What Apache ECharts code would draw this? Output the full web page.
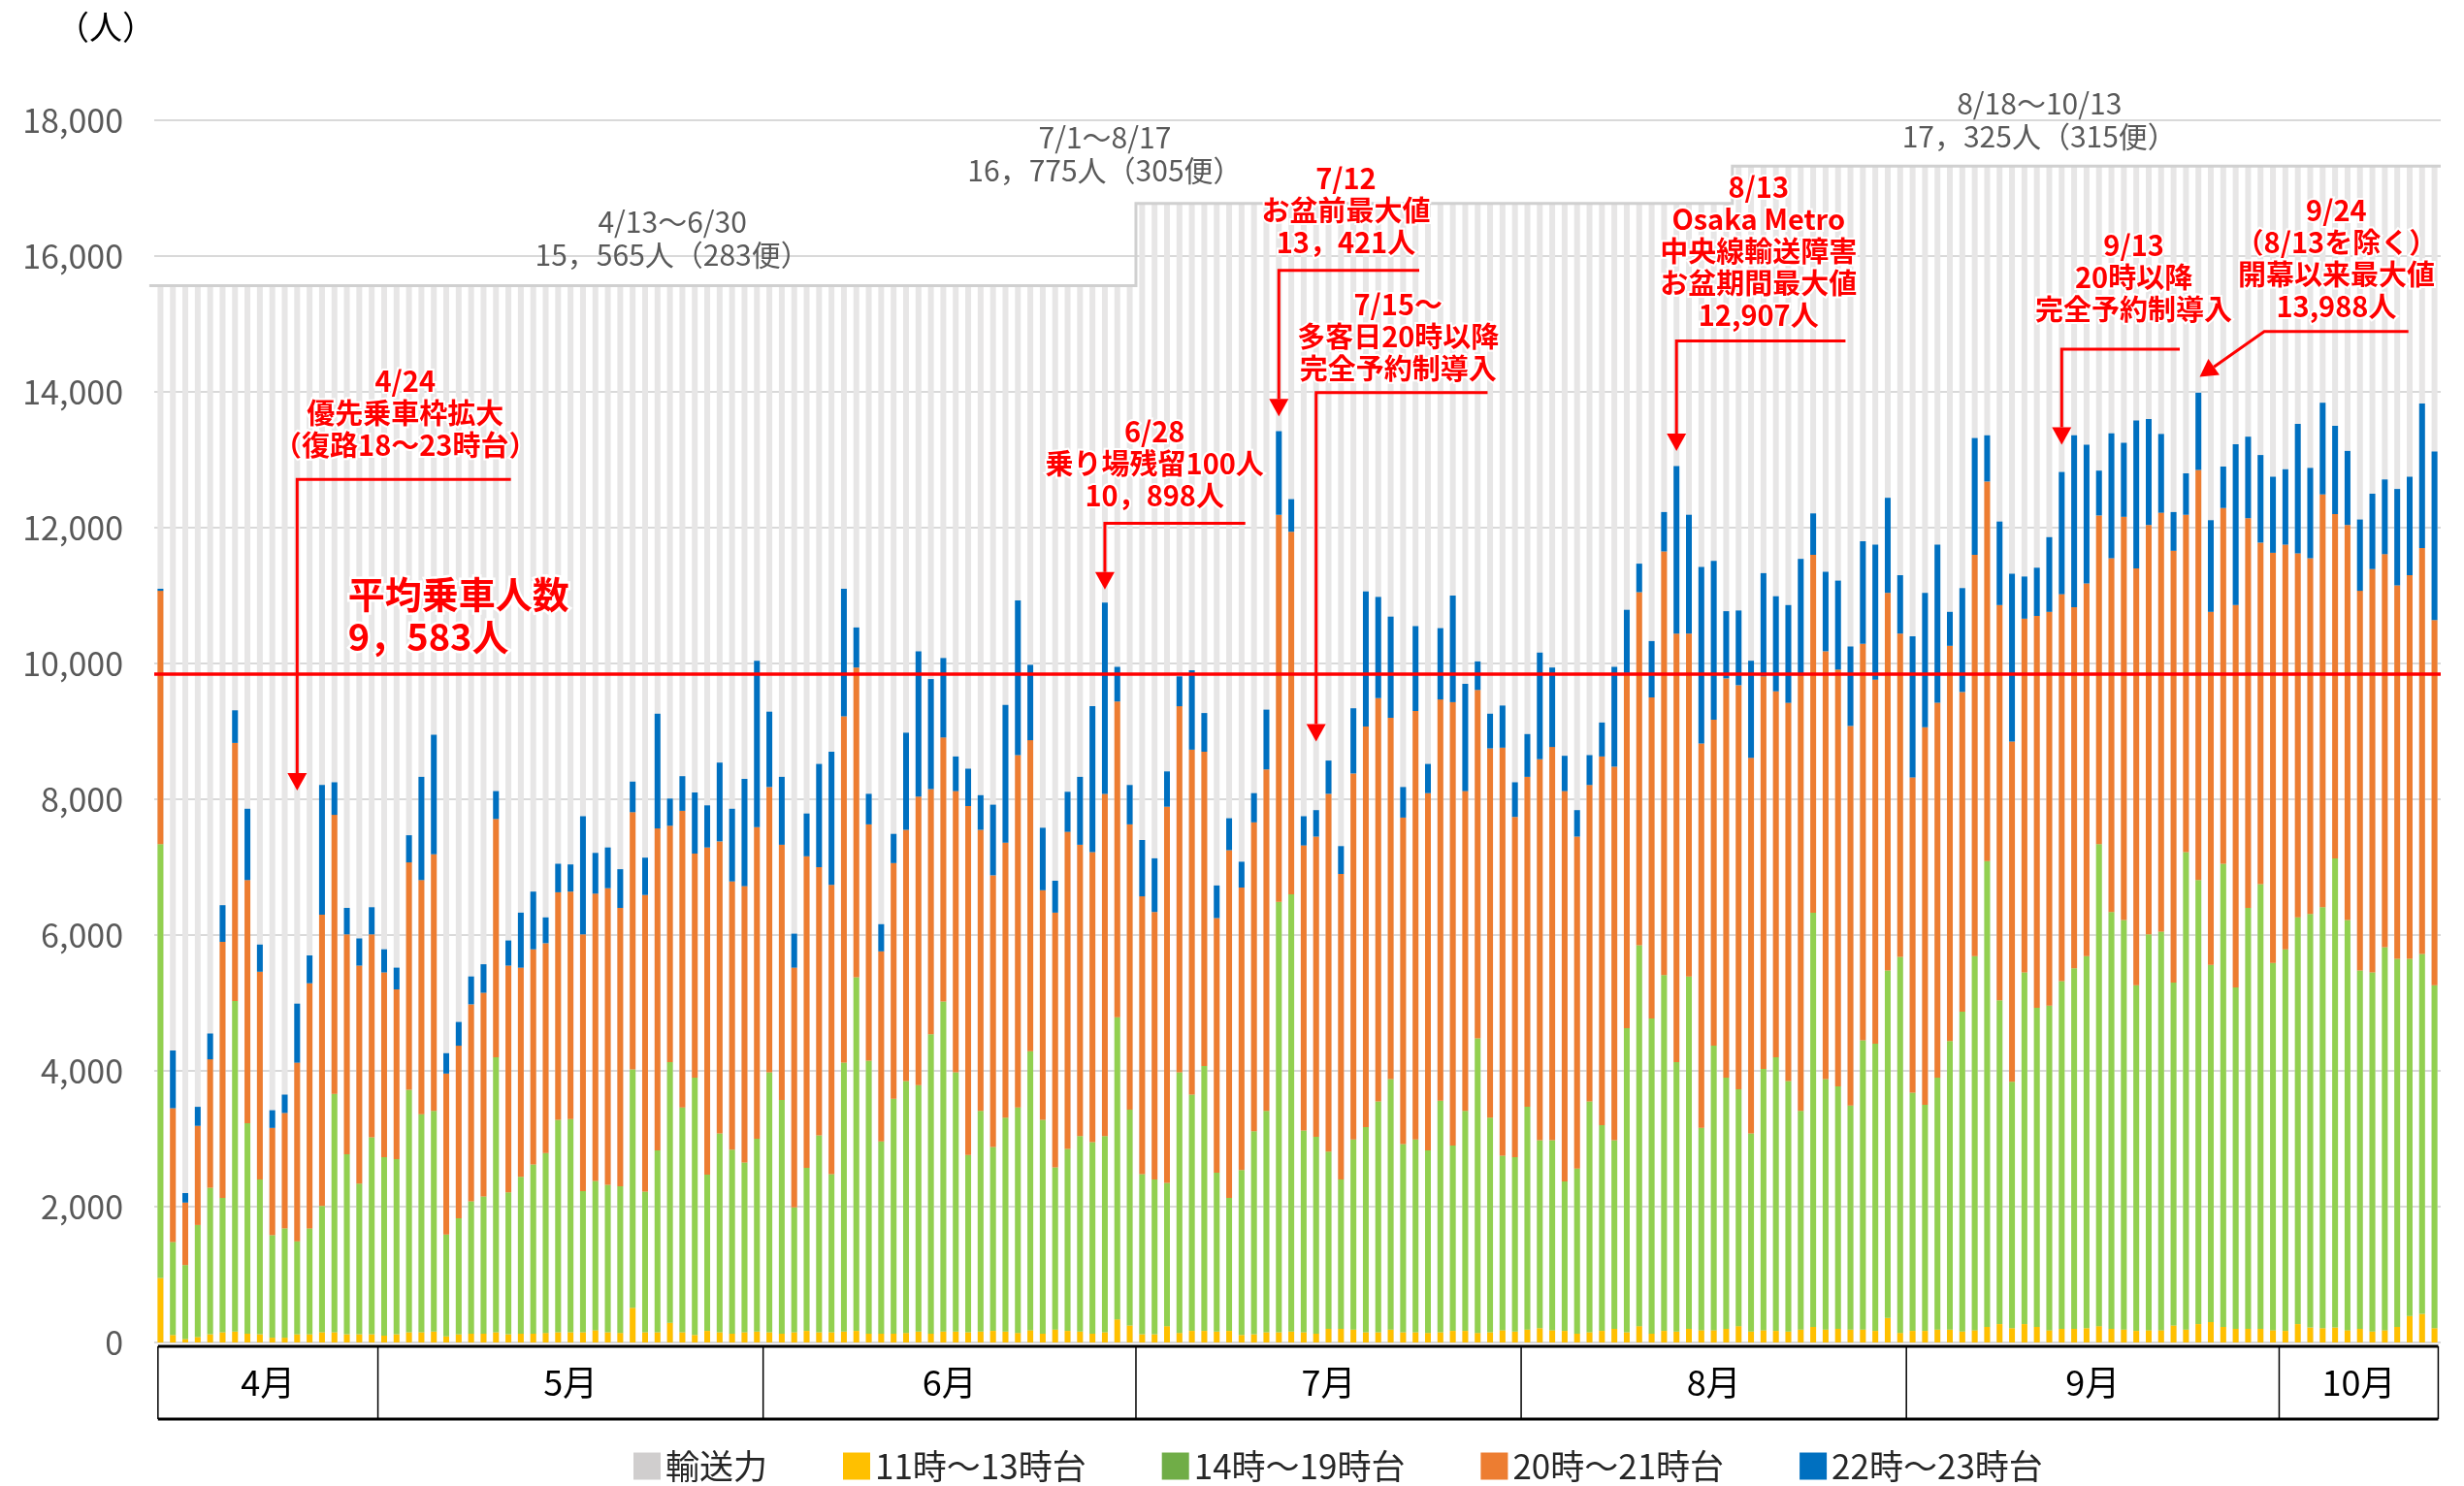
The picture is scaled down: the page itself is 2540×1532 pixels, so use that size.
<!DOCTYPE html>
<html lang="ja">
<head>
<meta charset="utf-8">
<title>日別乗車人数</title>
<script src="https://cdn.jsdelivr.net/npm/echarts@6.0.0/dist/echarts.min.js"></script>
<style>
  html, body { margin: 0; padding: 0; background: #fff; }
  #chart { width: 2540px; height: 1532px; }
</style>
</head>
<body>
<div id="chart"></div>
<script>
const FONT = '"Noto Sans CJK JP", "Noto Sans", sans-serif'

// 期間 4/13〜10/13
const monthNames = ['4月', '5月', '6月', '7月', '8月', '9月', '10月']
const monthNums = [4, 5, 6, 7, 8, 9, 10]
const monthFirstDay = [13, 1, 1, 1, 1, 1, 1]
const monthLastDay = [30, 31, 30, 31, 31, 30, 13]

const days = []
monthNums.forEach((m, k) => {
  for (let d = monthFirstDay[k]; d <= monthLastDay[k]; d++) days.push(m + '/' + d)
})

// 輸送力（期間ごと）
const capacityFrom = ['4/13', '7/1', '8/18']
const capacityValue = [15565, 16775, 17325]
const capacityText = ['4/13～6/30\n15，565人（283便）', '7/1～8/17\n16，775人（305便）', '8/18～10/13\n17，325人（315便）']

// 11時～13時台
const band11to13 = [
  950, 110, 50, 80, 120, 150, 160, 130, 120, 70, 70, 120, 120, 150, 150, 120, 120, 120,
  100, 120, 150, 150, 160, 90, 120, 130, 130, 150, 120, 130, 130, 140, 150, 150, 150, 180, 150, 140, 510, 150, 150, 290, 150, 110, 170, 150, 130, 150, 160,
  150, 130, 150, 170, 150, 150, 160, 170, 130, 130, 130, 140, 160, 130, 160, 160, 150, 160, 170, 160, 140, 180, 130, 190, 170, 160, 130, 150, 340, 250,
  120, 120, 240, 140, 170, 170, 160, 170, 110, 120, 150, 150, 160, 150, 130, 200, 200, 190, 150, 150, 190, 150, 150, 140, 150, 170, 170, 140, 150, 180, 160,
  190, 210, 180, 170, 130, 150, 170, 200, 150, 240, 130, 170, 160, 200, 180, 180, 200, 240, 160, 180, 170, 160, 190, 230, 190, 200, 190, 190, 170, 360, 140,
  170, 170, 190, 190, 160, 180, 230, 270, 210, 270, 230, 180, 200, 200, 210, 240, 200, 190, 170, 180, 180, 250, 190, 270, 300, 230, 200, 200, 200, 180,
  170, 270, 220, 210, 220, 180, 200, 160, 180, 230, 390, 420, 210
]

// 14時～19時台
const band14to19 = [
  6390, 1370, 1090, 1650, 2160, 1980, 4870, 3100, 2280, 1510, 1610, 1370, 1560, 1860, 3510, 2650, 2220, 2900,
  2630, 2580, 3570, 3210, 3250, 1500, 1710, 1950, 2020, 4050, 2090, 2310, 2490, 2650, 3130, 3140, 2080, 2200, 2170, 2160, 3510, 2070, 2680, 3840, 3310, 3790, 2300, 2930, 2710, 2500, 2840,
  3830, 3440, 1840, 2400, 2900, 2330, 3960, 5210, 4020, 2830, 3460, 3710, 3630, 4410, 4860, 3820, 2610, 3250, 2710, 3150, 3320, 4110, 3150, 2390, 2680, 2880, 2820, 2890, 4450, 3180,
  2360, 2280, 2110, 3840, 3480, 3900, 2340, 1960, 2430, 2990, 3260, 6340, 6440, 2970, 2900, 2610, 2200, 2800, 3020, 3400, 3690, 2770, 2840, 2690, 3410, 2730, 3240, 4340, 3160, 2570, 2570,
  3280, 2770, 2800, 2200, 2430, 3400, 3030, 2780, 4480, 5610, 4640, 5240, 3970, 5190, 2980, 4190, 3700, 3490, 2920, 3850, 4030, 3690, 3220, 6100, 3690, 3570, 3300, 4260, 4230, 5120, 5540,
  3510, 3330, 3710, 4250, 4710, 5510, 6860, 4770, 3630, 5180, 4700, 4780, 5120, 5310, 5480, 7100, 6140, 6030, 5090, 5830, 5870, 5050, 7030, 6540, 5260, 6820, 5030, 6200, 6550, 5410,
  5620, 5990, 6090, 6200, 6910, 6040, 5280, 5290, 5640, 5420, 5260, 5300, 5050
]

// 20時～21時台
const band20to21 = [
  3730, 1970, 920, 1460, 1890, 3770, 3800, 3580, 3060, 1580, 1700, 2630, 3610, 4290, 4110, 3240, 3210, 2990,
  2720, 2500, 3350, 3450, 3780, 2370, 2540, 2900, 3000, 3510, 3340, 3080, 3170, 3090, 3350, 3350, 3780, 4230, 4370, 4100, 3790, 4370, 4740, 3480, 4370, 3300, 4820, 4300, 3950, 4070, 4590,
  4200, 3760, 3530, 4590, 3950, 4260, 5100, 4560, 3480, 2800, 3470, 3700, 4250, 3610, 3890, 4140, 5140, 4140, 4000, 4050, 5190, 4580, 3380, 3750, 4670, 4290, 4270, 5040, 4650, 4200,
  4090, 3940, 5540, 5390, 5080, 4630, 3750, 5120, 4160, 4550, 5030, 5700, 5340, 4200, 4420, 5270, 4500, 5390, 5900, 5940, 5320, 4810, 6310, 5260, 5910, 6530, 4710, 5130, 5440, 6010, 5010,
  4860, 5610, 5790, 5750, 4890, 4660, 5430, 5500, 5230, 5200, 4730, 6240, 6310, 5050, 5660, 4800, 5880, 5950, 5530, 5780, 5390, 5570, 6410, 5270, 6300, 6140, 5590, 5840, 5360, 5560, 4760,
  4640, 5560, 5520, 5820, 4710, 5910, 5590, 5820, 5010, 5210, 5770, 5800, 5700, 5320, 5490, 4840, 5210, 5940, 6140, 6030, 6170, 6360, 4970, 6040, 5200, 5240, 5630, 5740, 5030, 6040,
  5960, 5360, 5240, 6080, 5070, 5820, 5590, 5940, 5790, 5500, 5650, 5980, 5380
]

// 22時～23時台
const band22to23 = [
  30, 850, 140, 280, 380, 540, 480, 1050, 400, 260, 270, 870, 410, 1910, 480, 390, 400, 400,
  340, 320, 400, 1520, 1760, 300, 350, 410, 420, 410, 370, 810, 850, 380, 420, 400, 1740, 600, 600, 570, 450, 550, 1690, 400, 510, 900, 620, 1160, 1070, 1580, 2450,
  1110, 1000, 500, 630, 1520, 1960, 1880, 590, 450, 400, 430, 1430, 2140, 1620, 1170, 510, 550, 510, 1040, 2030, 2280, 1110, 920, 470, 590, 1000, 2150, 2818, 510, 580,
  830, 790, 520, 440, 1170, 570, 480, 470, 380, 430, 880, 1231, 480, 430, 390, 490, 410, 960, 1990, 1490, 1490, 450, 1250, 430, 1050, 1570, 1580, 420, 510, 620, 510,
  630, 1570, 1170, 520, 390, 440, 500, 1470, 930, 420, 830, 580, 2467, 1750, 2600, 2340, 990, 1100, 1430, 1520, 1400, 1440, 1720, 610, 1170, 1310, 1170, 1510, 1990, 1400, 860,
  2080, 1980, 2330, 500, 1530, 1720, 680, 1230, 2470, 620, 710, 1100, 1800, 2530, 2040, 660, 1840, 1090, 2180, 1560, 1160, 570, 610, 1138, 1350, 610, 2370, 1200, 1290, 1120,
  1110, 1910, 1330, 1350, 1300, 1090, 1050, 1110, 1100, 1420, 1450, 2130, 2480
]

// 平均乗車人数の線（図中の位置）と表示値
const averageLineLevel = 9840
const averageText = '平均乗車人数\n9，583人'

const capacityStart = capacityFrom.map(d => days.indexOf(d))
const capacity = days.map((d, i) => {
  let v = capacityValue[0]
  capacityStart.forEach((s, k) => { if (i >= s) v = capacityValue[k] })
  return v
})

const BAR_W = 6

function bandSeries(name, data, color) {
  return {
    name: name,
    type: 'bar',
    stack: 'riders',
    data: data,
    barWidth: BAR_W,
    barGap: '-100%',
    itemStyle: { color: color }
  }
}

const chart = echarts.init(document.getElementById('chart'))
chart.setOption({
  animation: false,
  backgroundColor: '#fff',
  textStyle: { fontFamily: FONT },
  grid: { left: 159, top: 124, width: 2357, height: 1260 },
  legend: {
    left: 648,
    top: 1489,
    itemGap: 78,
    itemWidth: 28,
    itemHeight: 28,
    icon: 'rect',
    textStyle: { fontSize: 35, color: '#262626', fontFamily: FONT },
    data: [
      { name: '輸送力', itemStyle: { color: '#D0CECE' } },
      { name: '11時～13時台', itemStyle: { color: '#FFC000' } },
      { name: '14時～19時台', itemStyle: { color: '#70AD47' } },
      { name: '20時～21時台', itemStyle: { color: '#ED7D31' } },
      { name: '22時～23時台', itemStyle: { color: '#0070C0' } }
    ]
  },
  xAxis: {
    type: 'category',
    data: days,
    axisLine: { show: false },
    axisTick: { show: false },
    axisLabel: { show: false }
  },
  yAxis: {
    type: 'value',
    min: 0,
    max: 18000,
    interval: 2000,
    axisLine: { show: false },
    axisTick: { show: false },
    axisLabel: {
      fontSize: 34,
      color: '#595959',
      margin: 32,
      fontFamily: FONT,
      formatter: v => v.toLocaleString('en-US')
    },
    splitLine: { lineStyle: { color: '#D9D9D9', width: 2 } }
  },
  series: [
    {
      name: '輸送力',
      type: 'bar',
      data: capacity,
      barWidth: BAR_W,
      barGap: '-100%',
      itemStyle: { color: '#E7E6E6' }
    },
    bandSeries('11時～13時台', band11to13, '#FFC000'),
    bandSeries('14時～19時台', band14to19, '#92D050'),
    bandSeries('20時～21時台', band20to21, '#ED7D31'),
    Object.assign(bandSeries('22時～23時台', band22to23, '#0070C0'), {
      markLine: {
        silent: true,
        symbol: ['none', 'none'],
        label: { show: false },
        lineStyle: { color: '#FF0000', width: 3.5, type: 'solid' },
        data: [{ yAxis: averageLineLevel }]
      }
    })
  ]
})

// ---- annotations / month table (positions from the axes) ----
const x0 = chart.convertToPixel({ xAxisIndex: 0 }, days[0])
const step = chart.convertToPixel({ xAxisIndex: 0 }, days[1]) - x0
const X = i => x0 + i * step
const Y = v => chart.convertToPixel({ yAxisIndex: 0 }, v)

const RED = '#FF0000'
const elements = []

function addArrow(pts) {
  const n = pts.length
  const [tx, ty] = pts[n - 1]
  const [sx, sy] = pts[n - 2]
  const len = Math.hypot(tx - sx, ty - sy)
  const dx = (tx - sx) / len, dy = (ty - sy) / len
  const h = 18, w = 20
  const bx = tx - dx * h, by = ty - dy * h
  elements.push({
    type: 'polyline', z: 100,
    shape: { points: pts.slice(0, n - 1).concat([[bx, by]]) },
    style: { stroke: RED, lineWidth: 3, fill: null }
  })
  elements.push({
    type: 'polygon', z: 100,
    shape: { points: [[tx, ty], [bx - dy * w / 2, by + dx * w / 2], [bx + dy * w / 2, by - dx * w / 2]] },
    style: { fill: RED }
  })
}

function addText(txt, x, y, opts) {
  elements.push({
    type: 'text', z: 101, x: x, y: y,
    style: Object.assign({
      text: txt,
      align: 'center',
      verticalAlign: 'middle',
      fontFamily: FONT
    }, opts)
  })
}

// capacity outline + labels
const capPts = [[X(-0.9), Y(capacityValue[0])]]
for (let k = 1; k < capacityValue.length; k++) {
  const b = capacityStart[k] - 0.5
  capPts.push([X(b), Y(capacityValue[k - 1])], [X(b), Y(capacityValue[k])])
}
capPts.push([X(days.length - 0.5), Y(capacityValue[capacityValue.length - 1])])
elements.push({ type: 'polyline', z: 50, shape: { points: capPts }, style: { stroke: '#D0D0D0', lineWidth: 3, fill: null } })

const capacityLabelAt = [[41.2, 16264], [76.0, 17503], [151.2, 18001]]
capacityText.forEach((t, k) => {
  addText(t, X(capacityLabelAt[k][0]), Y(capacityLabelAt[k][1]), { fontSize: 30, lineHeight: 34, fill: '#595959' })
})

// red notes
const notes = [
  { text: '4/24\n優先乗車枠拡大\n（復路18～23時台）', at: [19.7, 13690], path: [[28.2, 12710], [11, 12710], [11, 8130]] },
  { text: '6/28\n乗り場残留100人\n10，898人', at: [80.0, 12944], path: [[87.3, 12066], [76, 12066], [76, 11090]] },
  { text: '7/12\nお盆前最大値\n13，421人', at: [95.4, 16670], path: [[101.3, 15790], [90, 15790], [90, 13640]] },
  { text: '7/15～\n多客日20時以降\n完全予約制導入', at: [99.6, 14820], path: [[106.8, 13990], [93, 13990], [93, 8850]] },
  { text: '8/13\nOsaka Metro\n中央線輸送障害\nお盆期間最大値\n12,907人', at: [128.6, 16070], path: [[135.6, 14750], [122, 14750], [122, 13130]] },
  { text: '9/13\n20時以降\n完全予約制導入', at: [158.8, 15680], path: [[162.5, 14630], [153, 14630], [153, 13220]] },
  { text: '9/24\n（8/13を除く）\n開幕以来最大値\n13,988人', at: [175.1, 15960], path: [[180.9, 14890], [169.3, 14890], [164.1, 14220]] }
]
notes.forEach(n => {
  addText(n.text, X(n.at[0]), Y(n.at[1]), {
    fontSize: 29, lineHeight: 33, fill: RED, fontWeight: 'bold',
    stroke: '#fff', lineWidth: 4
  })
  addArrow(n.path.map(p => [X(p[0]), Y(p[1])]))
})

addText(averageText, X(15.1), Y(10711), {
  align: 'left', fontSize: 38, lineHeight: 44, fill: RED, fontWeight: 'bold',
  stroke: '#fff', lineWidth: 5
})

// month table under the bars
const tTop = Y(0) + 4
const tBottom = tTop + 75
const monthStart = []
let acc = 0
monthFirstDay.forEach((f, k) => { monthStart.push(acc); acc += monthLastDay[k] - f + 1 })
const edgeL = X(-0.2), edgeR = X(days.length - 0.7)
const bounds = [edgeL].concat(monthStart.slice(1).map(s => X(s - 0.5))).concat([edgeR])

elements.push({ type: 'line', z: 60, shape: { x1: edgeL, y1: tTop, x2: edgeR, y2: tTop }, style: { stroke: '#000', lineWidth: 3 } })
elements.push({ type: 'line', z: 60, shape: { x1: edgeL, y1: tBottom, x2: edgeR, y2: tBottom }, style: { stroke: '#000', lineWidth: 3 } })
bounds.forEach(b => {
  elements.push({ type: 'line', z: 60, shape: { x1: b, y1: tTop, x2: b, y2: tBottom }, style: { stroke: '#000', lineWidth: 1.5 } })
})
monthNames.forEach((m, k) => {
  addText(m, (bounds[k] + bounds[k + 1]) / 2, (tTop + tBottom) / 2, { fontSize: 36, fill: '#000' })
})

// unit
addText('（人）', 109, 28, { fontSize: 34, fill: '#000' })

chart.setOption({ graphic: elements })
</script>
</body>
</html>
